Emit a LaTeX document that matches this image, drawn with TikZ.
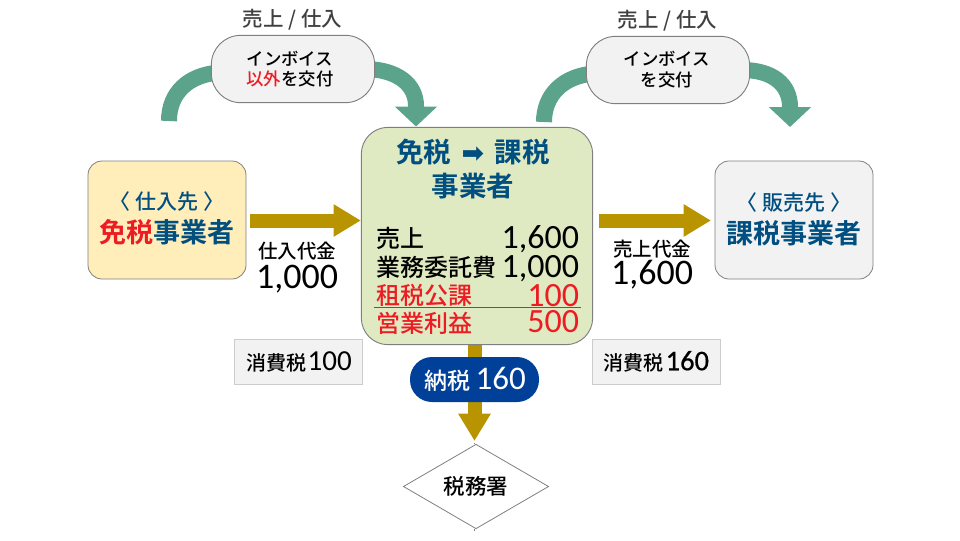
\documentclass[tikz,border=0pt]{standalone}
\usepackage{fontspec}
\setmainfont{Noto Sans CJK JP}[UprightFont=* Medium,BoldFont=* Bold]
\newfontfamily\numfont{Carlito}
\newfontfamily\numfontb{Carlito}[FakeBold=0.6]
\newfontfamily\symfont{DejaVu Sans}
\usetikzlibrary{arrows.meta,shapes.geometric,backgrounds}
\definecolor{cgreen}{HTML}{5BA38A}
\definecolor{cgold}{HTML}{B89500}
\definecolor{cnavy}{HTML}{004F80}
\definecolor{cred}{HTML}{ED1C24}
\definecolor{cblue}{HTML}{004098}
\definecolor{cgrey}{HTML}{F2F2F2}
\definecolor{cedge}{HTML}{7F7F7F}
\newcommand{\fpx}[1]{\fontsize{\fpeval{#1*0.75}pt}{\fpeval{#1*0.9}pt}\selectfont}
\tikzset{
 x=0.75pt,y=-0.75pt,
 txt/.style={inner sep=0pt,outer sep=0pt,align=center},
 pillbox/.style={draw=cedge,line width=0.7pt,fill=cgrey,rounded corners=22pt,minimum width=122.5pt,minimum height=50.5pt,inner sep=0pt,align=center,font=\fpx{17.4}},
 sidebox/.style={draw=cedge,line width=0.6pt,rounded corners=10.5pt,minimum width=118.5pt,minimum height=88.5pt,inner sep=0pt,align=center},
 taxbox/.style={draw=black!20,line width=0.6pt,fill=cgrey,minimum width=96pt,minimum height=33.75pt,inner sep=0pt,font=\fpx{20}},
 goldarrow/.style={draw=cgold,line width=10.5pt,-{Triangle[length=20.5pt,width=23pt,fill=cgold]}},
 greenarc/.style={draw=cgreen,line width=12pt},
 greenarrow/.style={draw=cgreen,line width=12pt,-{Triangle[length=15pt,width=31pt,fill=cgreen]}},
 rowlabel/.style={txt,anchor=base west,font=\fpx{24}},
 rownum/.style={txt,anchor=base east,font=\fpx{34}\numfont},
 bignum/.style={txt,font=\fpx{36}\numfont},
 stub/.style={draw=cedge,line width=0.6pt},
}
\begin{document}
\begin{tikzpicture}
\useasboundingbox (0,0) rectangle (960,540);
% nodes
\node[pillbox] (inv1) at (293,69) {};
\node[pillbox] (inv2) at (668,70) {};
\node[txt,font=\fpx{17.4}] (inv1t) at (290,69) {インボイス\\[-0.5pt]{\color{cred}以外}を交付};
\node[txt,font=\fpx{17.4}] (inv2t) at (667,69.5) {インボイス\\[-0.5pt]を交付};
\node[txt,text=black!75,font=\fpx{20.5}] (t1) at (292.5,20) {売上 / 仕入};
\node[txt,text=black!75,font=\fpx{20.5}] (t2) at (667.5,21) {売上 / 仕入};
\node[draw=cedge,line width=0.7pt,minimum width=173.5pt,minimum height=163pt,rounded corners=20pt,inner sep=0pt,fill={rgb,255:red,224;green,234;blue,194}] (main) at (477,236) {};
\node[sidebox,fill={rgb,255:red,255;green,238;blue,186}] (sup) at (167,220) {};
\node[sidebox,fill=cgrey] (cus) at (794,220) {};
\node[txt,text=cnavy,font=\fpx{21}] (supa) at (167,202) {〈 仕入先 〉};
\node[txt,text=cnavy,font=\fpx{27}\bfseries] (supb) at (166.5,232) {{\color{cred}免税}事業者};
\node[txt,text=cnavy,font=\fpx{21}] (cusa) at (794,203) {〈 販売先 〉};
\node[txt,text=cnavy,font=\fpx{27}\bfseries] (cusb) at (794,233) {課税事業者};
\node[txt,text=cnavy,font=\fpx{27.5}\bfseries] (ma) at (473,152.5) {免税\hspace{8pt}{\symfont\fpx{27}➡}\hspace{8pt}課税};
\node[txt,text=cnavy,font=\fpx{27.5}\bfseries] (mb) at (473,186) {事業者};
\node[rowlabel] (l1) at (376.5,247) {売上};
\node[rowlabel] (l2) at (376.5,276) {業務委託費};
\node[rowlabel,text=cred] (l3) at (376.5,304) {租税公課};
\node[rowlabel,text=cred] (l4) at (376.5,332) {営業利益};
\node[rownum] (n1) at (579,248) {1,600};
\node[rownum] (n2) at (579,277) {1,000};
\node[rownum,text=cred] (n3) at (579,306) {100};
\node[rownum,text=cred] (n4) at (579,332) {500};
\coordinate (ruleL) at (374,307.5);
\coordinate (ruleR) at (581,307.5);
\draw[cred,line width=0.6pt] (ruleL) -- (ruleR);
\node[txt,font=\fpx{19.5}] (p1) at (297,251) {仕入代金};
\node[bignum] (p2) at (297,279) {1,000};
\node[txt,font=\fpx{19.5}] (s1) at (652,249) {売上代金};
\node[bignum] (s2) at (652,275) {1,600};
\node[taxbox] (tax1) at (298,361.5) {\hspace{1.5pt}消費税\hspace{1pt}{\numfont\fpx{29}100}};
\node[taxbox] (tax2) at (656,361.5) {\hspace{0.5pt}消費税\hspace{1.5pt}{\numfontb\fpx{28.5}160}};
\node[fill=cblue,rounded corners=16.5pt,minimum width=96.75pt,minimum height=33.75pt,inner sep=0pt,text=white,font=\fpx{23}] (pay) at (474.5,379.5) {\hspace{1pt}納税 {\numfont\fpx{33}160}};
\node[diamond,draw=cedge,line width=0.6pt,minimum width=109pt,minimum height=54pt,inner sep=0pt,font=\fpx{21.5}] (office) at (476,486.5) {税務署};
% connector ends
\coordinate (gl) at (169,121);
\coordinate (grt) at (416,126.5);
\coordinate (gr) at (544,122);
\coordinate (grr) at (790,127);
\coordinate (a1s) at (250,220.5);
\coordinate (a2s) at (599,220.5);
\coordinate (a2e) at (711,220.5);
\coordinate (a3e) at (474.5,441);
\coordinate (stubT) at (474.5,443);
\coordinate (stubB) at (474.5,531);
\begin{scope}[on background layer]
\draw[greenarc] (gl) .. controls (169,93) and (188,75) .. ([yshift=-3.5*0.75pt,xshift=6pt]inv1.west);
\draw[greenarrow] ([xshift=-6pt]inv1.east) .. controls (397,70) and (416,84) .. (416,106) -- (grt);
\draw[greenarc] (gr) .. controls (544,95) and (563,76) .. ([yshift=-3.5*0.75pt,xshift=6pt]inv2.west);
\draw[greenarrow] ([xshift=-6pt]inv2.east) .. controls (772,70) and (790,84) .. (790,107) -- (grr);
\draw[goldarrow] (a1s) -- (main.west |- a1s);
\draw[goldarrow] (a2s) -- (a2e);
\draw[goldarrow] (main.south -| a3e) -- (a3e);
\end{scope}
\draw[stub] (stubT) -- (office.north -| stubT);
\draw[stub] (office.south -| stubB) -- (stubB);
\end{tikzpicture}
\end{document}
